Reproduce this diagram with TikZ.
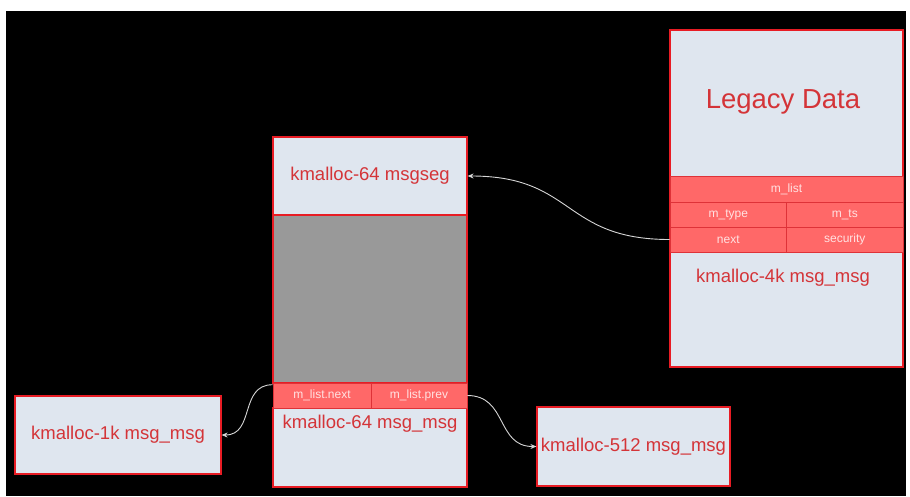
\documentclass[tikz,border=0pt]{standalone}
\usepackage{fontspec}
\setmainfont{Liberation Sans}
\usetikzlibrary{arrows.meta}
\definecolor{boxfill}{RGB}{223,230,239}
\definecolor{boxred}{RGB}{232,28,36}
\definecolor{txtred}{RGB}{212,52,56}
\definecolor{cellred}{RGB}{255,104,104}
\definecolor{cellline}{RGB}{222,50,56}
\definecolor{celltxt}{RGB}{255,226,226}
\definecolor{segfill}{RGB}{153,153,153}
\definecolor{linkgrey}{RGB}{214,214,214}

\begin{document}
\begin{tikzpicture}[x=1pt,y=-1pt,
    box/.style={draw=boxred,fill=boxfill,line width=1.2pt,inner sep=0pt},
    label text/.style={text=txtred,font=\fontsize{18.5}{20}\selectfont},
    cell/.style={draw=cellline,fill=cellred,line width=0.6pt,inner sep=0pt,
        text=celltxt,font=\fontsize{12}{14}\selectfont},
    link/.style={draw=linkgrey,line width=0.9pt,-{Stealth[length=6pt,width=5pt]}}]
    \useasboundingbox (0,0) rectangle (910,496);
    \fill[white] (0,0) rectangle (910,496);
    \fill[black] (6,11) rectangle (906,496);

    % kmalloc-4k object
    \node[box,minimum width=233pt,minimum height=337pt] (legacy) at (786.5,198.5) {};
    \node[label text,font=\fontsize{27.5}{30}\selectfont] (legacytxt) at (783,102) {Legacy Data};
    \node[cell,minimum width=233pt,minimum height=26pt] (mlist) at (786.5,189) {m\_list};
    \node[cell,minimum width=116.5pt,minimum height=25pt] (mtype) at (728.25,214.5) {m\_type};
    \node[cell,minimum width=116.5pt,minimum height=25pt] (mts) at (844.75,214.5) {m\_ts};
    \node[cell,minimum width=116.5pt,minimum height=25pt] (mnext) at (728.25,239.5) {next};
    \node[cell,minimum width=116.5pt,minimum height=25pt] (msec) at (844.75,239.5) {security};
    \node[label text] (fourk) at (783,278) {kmalloc-4k msg\_msg};

    % kmalloc-64 objects
    \node[box,label text,minimum width=194pt,minimum height=78pt] (seg) at (370,176) {kmalloc-64 msgseg};
    \node[box,fill=segfill,minimum width=194pt,minimum height=168pt] (gap) at (370,299) {};
    \node[box,minimum width=194pt,minimum height=79pt] (msgmsg) at (370,447.5) {};
    \node[label text] (msgmsgtxt) at (370,424) {kmalloc-64 msg\_msg};
    \node[cell,minimum width=98pt,minimum height=25pt] (lnext) at (322,395.5) {m\_list.next};
    \node[cell,minimum width=96pt,minimum height=25pt] (lprev) at (419,395.5) {m\_list.prev};

    % neighbours
    \node[box,label text,minimum width=206pt,minimum height=78pt] (kmone) at (118,435) {kmalloc-1k msg\_msg};
    \node[box,label text,minimum width=193pt,minimum height=79pt] (kmfive) at (633.5,446.5) {kmalloc-512 msg\_msg};

    \draw[link] (mnext.west) to[out=180,in=0,looseness=1.3] (seg.east);
    \draw[link] ([yshift=-2pt]lnext.north west) to[out=180,in=0,looseness=1.2] (kmone.east);
    \draw[link] (lprev.east) to[out=0,in=180,looseness=1.2] (kmfive.west);
\end{tikzpicture}
\end{document}
